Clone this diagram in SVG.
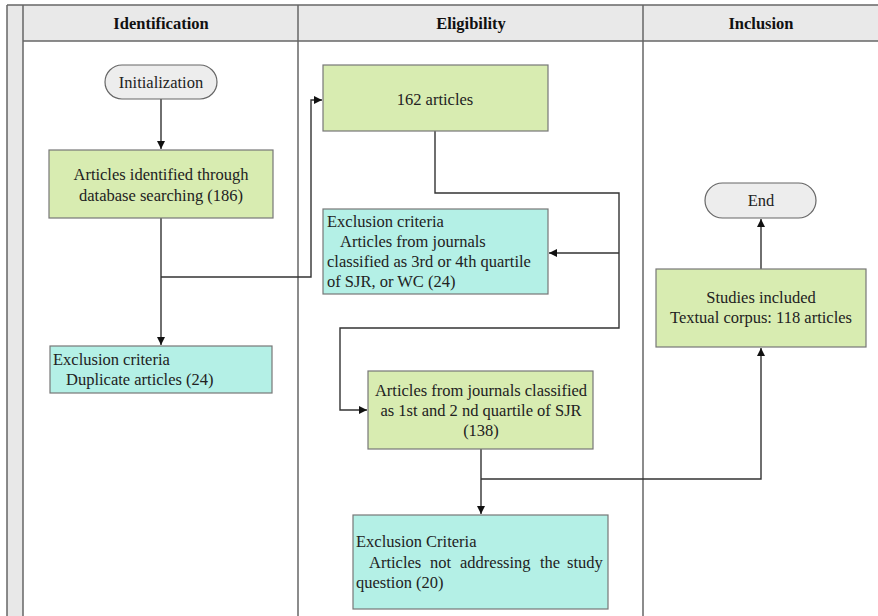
<svg xmlns="http://www.w3.org/2000/svg" width="878" height="616" viewBox="0 0 878 616">
<style>
.frame{fill:none;stroke:#666;stroke-width:1.5}
.hdr{font-family:"Liberation Serif","Times New Roman",serif;font-weight:bold;font-size:16.5px;fill:#111;text-anchor:middle}
.t{font-family:"Liberation Serif","Times New Roman",serif;font-size:16.5px;fill:#222}
.c{text-anchor:middle}
.green{fill:#d8ecb1;stroke:#777;stroke-width:1.2}
.cyan{fill:#b4f0e6;stroke:#777;stroke-width:1.2}
.pill{fill:#ededed;stroke:#666;stroke-width:1.2}
.conn{fill:none;stroke:#333;stroke-width:1.4}
</style>
<defs>
<marker id="ah" viewBox="0 0 10 10" refX="10" refY="5" markerWidth="8" markerHeight="8" markerUnits="userSpaceOnUse" orient="auto">
<path d="M0,0 L10,5 L0,10 z" fill="#111"/>
</marker>
</defs>
<rect width="878" height="616" fill="#fff"/>
<g id="frame">
<rect x="7" y="5" width="16" height="611" fill="#e8e8e8"/>
<rect x="23" y="5" width="855" height="36" fill="#e9e9e9"/>
<line class="frame" x1="7" y1="5" x2="878" y2="5"/>
<line class="frame" x1="23" y1="41" x2="878" y2="41"/>
<line class="frame" x1="7" y1="5" x2="7" y2="616"/>
<line class="frame" x1="23" y1="5" x2="23" y2="616"/>
<line class="frame" x1="298" y1="5" x2="298" y2="616"/>
<line class="frame" x1="643" y1="5" x2="643" y2="616"/>
<text class="hdr" x="161" y="29">Identification</text>
<text class="hdr" x="471" y="29">Eligibility</text>
<text class="hdr" x="761" y="29">Inclusion</text>
</g>
<g id="connectors">
<path class="conn" d="M161,99 V149" marker-end="url(#ah)"/>
<path class="conn" d="M161,218 V345" marker-end="url(#ah)"/>
<path class="conn" d="M161,277 H311 V100 H322" marker-end="url(#ah)"/>
<path class="conn" d="M435,131 V193 H619 V328 H340 V410 H367" marker-end="url(#ah)"/>
<path class="conn" d="M619,253 H549" marker-end="url(#ah)"/>
<path class="conn" d="M481,449 V514" marker-end="url(#ah)"/>
<path class="conn" d="M481,479 H761 V348" marker-end="url(#ah)"/>
<path class="conn" d="M761,269 V219" marker-end="url(#ah)"/>
</g>
<g id="init">
<rect class="pill" x="105" y="65" width="112" height="34" rx="17"/>
<text class="t c" x="161" y="88">Initialization</text>
</g>
<g id="identified">
<rect class="green" x="49" y="150" width="224" height="68"/>
<text class="t c" x="161" y="180">Articles identified through</text>
<text class="t c" x="161" y="201">database searching (186)</text>
</g>
<g id="excl1">
<rect class="cyan" x="50" y="346" width="222" height="47"/>
<text class="t" x="53" y="365">Exclusion criteria</text>
<text class="t" x="66" y="385">Duplicate articles (24)</text>
</g>
<g id="a162">
<rect class="green" x="323" y="65" width="225" height="66"/>
<text class="t c" x="435" y="105">162 articles</text>
</g>
<g id="excl2">
<rect class="cyan" x="323" y="209" width="225" height="85"/>
<text class="t" x="327" y="227">Exclusion criteria</text>
<text class="t" x="340" y="247">Articles from journals</text>
<text class="t" x="327" y="267">classified as 3rd or 4th quartile</text>
<text class="t" x="327" y="287">of SJR, or WC (24)</text>
</g>
<g id="a138">
<rect class="green" x="368" y="371" width="225" height="78"/>
<text class="t c" x="481" y="396">Articles from journals classified</text>
<text class="t c" x="481" y="416">as 1st and 2 nd quartile of SJR</text>
<text class="t c" x="481" y="436">(138)</text>
</g>
<g id="excl3">
<rect class="cyan" x="353" y="515" width="255" height="94"/>
<text class="t" x="356" y="547">Exclusion Criteria</text>
<text class="t" y="568"><tspan x="369">Articles</tspan><tspan x="430">not</tspan><tspan x="460">addressing</tspan><tspan x="540">the</tspan><tspan x="567">study</tspan></text>
<text class="t" x="356" y="588">question (20)</text>
</g>
<g id="studies">
<rect class="green" x="656" y="269" width="210" height="78"/>
<text class="t c" x="761" y="303">Studies included</text>
<text class="t c" x="761" y="323">Textual corpus: 118 articles</text>
</g>
<g id="end">
<rect class="pill" x="705" y="183" width="111" height="35" rx="17.5"/>
<text class="t c" x="761" y="206">End</text>
</g>
</svg>
